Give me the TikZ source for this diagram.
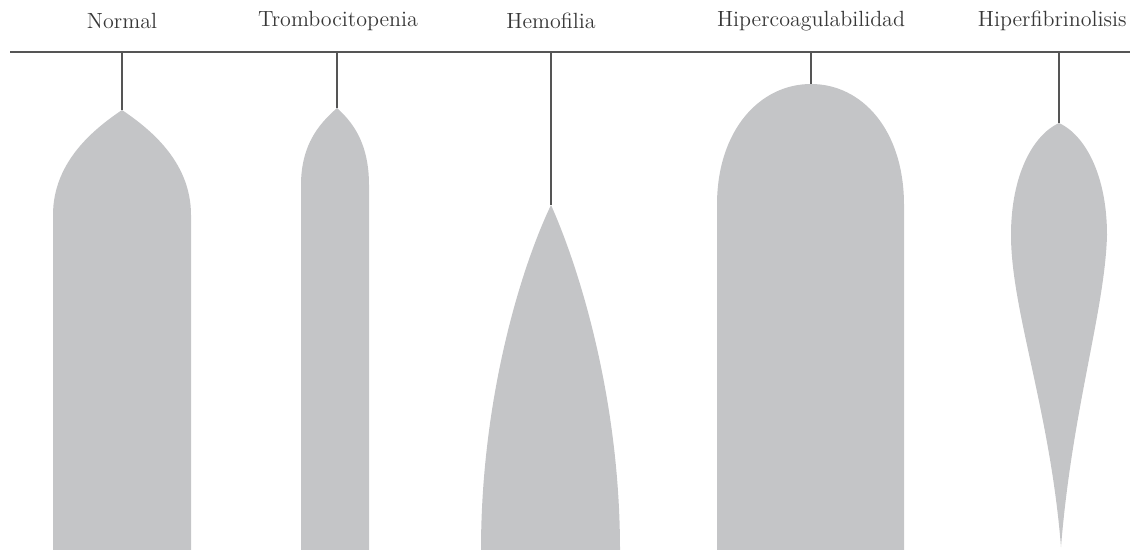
\documentclass[tikz,border=0pt]{standalone}
\usepackage{tikz}
\usetikzlibrary{positioning,calc}
\definecolor{clotgray}{RGB}{196,197,199}
\definecolor{stemgray}{RGB}{85,85,85}
\definecolor{labelgray}{RGB}{55,55,55}

\begin{document}
\begin{tikzpicture}[
  x=0.5pt,y=-0.5pt,
  lbl/.style={font=\fontsize{11}{13}\selectfont, text=labelgray, inner sep=0pt},
  stem/.style={draw=stemgray, line width=0.9pt},
  clot/.style={fill=clotgray, draw=none}
]
\useasboundingbox (0,0) rectangle (1130,550);
% labels
\node[lbl] (normal) at (122,21) {Normal};
\node[lbl] (trombo) at (338,21) {Trombocitopenia};
\node[lbl] (hemo) at (551,21) {Hemofilia};
\node[lbl] (hiperc) at (811,21) {Hipercoagulabilidad};
\node[lbl, anchor=east] (hiperf) at (1127,21) {Hiperfibrinolisis};
% base line
\coordinate (lineL) at (10,52); \coordinate (lineR) at (1130,52);
\draw[stem] (lineL) -- (lineR);
% clot shapes
\fill[clot] (53,550) -- (53,215) .. controls (53,160) and (97,127) .. (122,110) .. controls (147,127) and (191,160) .. (191,215) -- (191,550) -- cycle;
\fill[clot] (301,550) -- (301,185) .. controls (301,140) and (324,120) .. (337,108) .. controls (350,120) and (369,140) .. (369,185) -- (369,550) -- cycle;
\fill[clot] (481,550) .. controls (481,400) and (520,270) .. (551,205) .. controls (580,270) and (620,400) .. (620,550) -- cycle;
\fill[clot] (717,550) -- (717,205) .. controls (717,130) and (760,84) .. (811,84) .. controls (862,84) and (904,130) .. (904,205) -- (904,550) -- cycle;
\fill[clot] (1059,123) .. controls (1085,135) and (1107,175) .. (1107,235) .. controls (1105,310) and (1072,410) .. (1061,547) .. controls (1050,410) and (1011,310) .. (1011,235) .. controls (1011,175) and (1033,135) .. (1059,123) -- cycle;
% stems
\coordinate (topA) at (122,52); \coordinate (tipA) at (122,110);
\coordinate (topB) at (337,52); \coordinate (tipB) at (337,108);
\coordinate (topC) at (551,52); \coordinate (tipC) at (551,205);
\coordinate (topD) at (811,52); \coordinate (tipD) at (811,84);
\coordinate (topE) at (1059,52); \coordinate (tipE) at (1059,123);
\draw[stem] (topA) -- (tipA); \draw[stem] (topB) -- (tipB); \draw[stem] (topC) -- (tipC); \draw[stem] (topD) -- (tipD); \draw[stem] (topE) -- (tipE);
\end{tikzpicture}
\end{document}
